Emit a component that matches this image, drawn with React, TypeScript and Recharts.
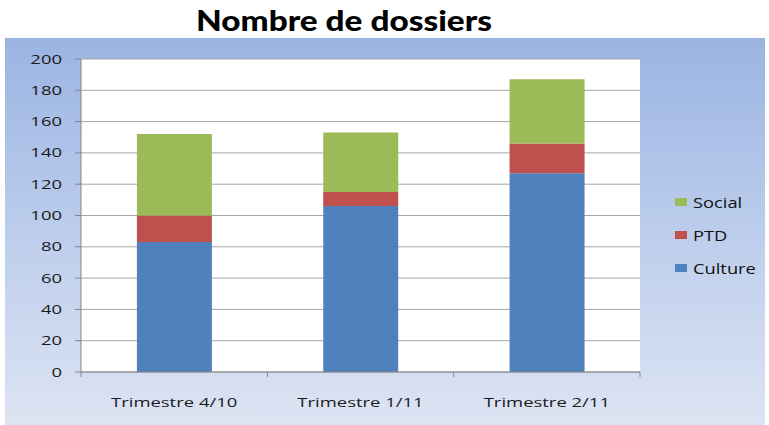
import React from 'react';
import { BarChart, Bar, XAxis, YAxis, CartesianGrid } from 'recharts';

// values
const quarters = ['Trimestre 4/10', 'Trimestre 1/11', 'Trimestre 2/11'];
const culture = [83, 106, 127];
const ptd = [17, 9, 19];
const social = [52, 38, 41];
const yTicks = [0, 20, 40, 60, 80, 100, 120, 140, 160, 180, 200];

const series = [
  { key: 'culture', name: 'Culture', color: '#4F81BD' },
  { key: 'ptd', name: 'PTD', color: '#C0504D' },
  { key: 'social', name: 'Social', color: '#9BBB59' },
];

const data = quarters.map((q, i) => ({
  quarter: q,
  culture: culture[i],
  ptd: ptd[i],
  social: social[i],
}));

const W = 769;
const H = 425;
const MARGIN = { top: 59, right: 129, bottom: 0, left: 0 };
const Y_AXIS_W = 81;
const X_AXIS_H = 53;
const AXIS_Y = H - X_AXIS_H;
const BAND = (W - MARGIN.left - MARGIN.right - Y_AXIS_W) / quarters.length;
const FONT = '"Open Sans", sans-serif';
// source picture is stretched sideways, so text gets widened too
const STRETCH = 1.42;

const XTick = (props: any) => {
  const { x, payload, index } = props;
  const half = BAND / 2;
  return (
    <g>
      <line x1={x - half} y1={AXIS_Y} x2={x - half} y2={AXIS_Y + 5} stroke="#868686" />
      {index === quarters.length - 1 && (
        <line x1={x + half} y1={AXIS_Y} x2={x + half} y2={AXIS_Y + 5} stroke="#868686" />
      )}
      <text
        transform={`translate(${x},${AXIS_Y + 30}) scale(${STRETCH},1)`}
        textAnchor="middle"
        dy="0.35em"
        fontFamily={FONT}
        fontSize={13}
        fill="#1a1a1a"
      >
        {payload.value}
      </text>
    </g>
  );
};

const YTick = (props: any) => {
  const { x, y, payload } = props;
  return (
    <text
      transform={`translate(${x},${y}) scale(${STRETCH},1)`}
      textAnchor="end"
      dy="0.35em"
      fontFamily={FONT}
      fontSize={13}
      fill="#1a1a1a"
    >
      {payload.value}
    </text>
  );
};

const LegendBox = () => (
  <div style={{ position: 'absolute', left: 675, top: 185, fontFamily: FONT }}>
    {[...series].reverse().map((s) => (
      <div key={s.key} style={{ height: 33, display: 'flex', alignItems: 'center' }}>
        <span style={{ display: 'inline-block', width: 12, height: 8, background: s.color, marginRight: 6 }} />
        <span
          style={{
            display: 'inline-block',
            fontSize: 15,
            color: '#111',
            transform: 'scaleX(1.22)',
            transformOrigin: 'left center',
          }}
        >
          {s.name}
        </span>
      </div>
    ))}
  </div>
);

export default function App() {
  return (
    <div style={{ position: 'fixed', left: 0, top: 0, width: W, height: H, background: '#fff', overflow: 'hidden' }}>
      <div
        style={{
          position: 'absolute',
          left: 5,
          top: 38,
          width: 760,
          height: 387,
          background: 'linear-gradient(180deg, #9AB4E2 0%, #BCCDEC 50%, #DDE4F3 100%)',
        }}
      />
      <div
        style={{
          position: 'absolute',
          left: 0,
          top: 2,
          width: 688,
          textAlign: 'center',
          fontFamily: 'Lato, sans-serif',
          fontWeight: 900,
          fontSize: 28,
          lineHeight: '36px',
          color: '#000',
          transform: 'scaleX(1.19)',
          transformOrigin: '344px 18px',
        }}
      >
        Nombre de dossiers
      </div>
      <div style={{ position: 'absolute', left: 0, top: 0 }}>
        <BarChart width={W} height={H} data={data} margin={MARGIN} barCategoryGap="30%">
          <CartesianGrid vertical={false} stroke="#a5a5a5" fill="#ffffff" />
          <XAxis
            dataKey="quarter"
            height={X_AXIS_H}
            tickLine={false}
            axisLine={{ stroke: '#868686' }}
            tick={<XTick />}
            interval={0}
          />
          <YAxis
            width={Y_AXIS_W}
            domain={[0, 200]}
            ticks={yTicks}
            interval={0}
            tickSize={6}
            tickMargin={13}
            tickLine={{ stroke: '#868686' }}
            axisLine={{ stroke: '#868686' }}
            tick={<YTick />}
          />
          {series.map((s) => (
            <Bar
              key={s.key}
              dataKey={s.key}
              name={s.name}
              stackId="a"
              fill={s.color}
              isAnimationActive={false}
            />
          ))}
        </BarChart>
      </div>
      <LegendBox />
    </div>
  );
}
